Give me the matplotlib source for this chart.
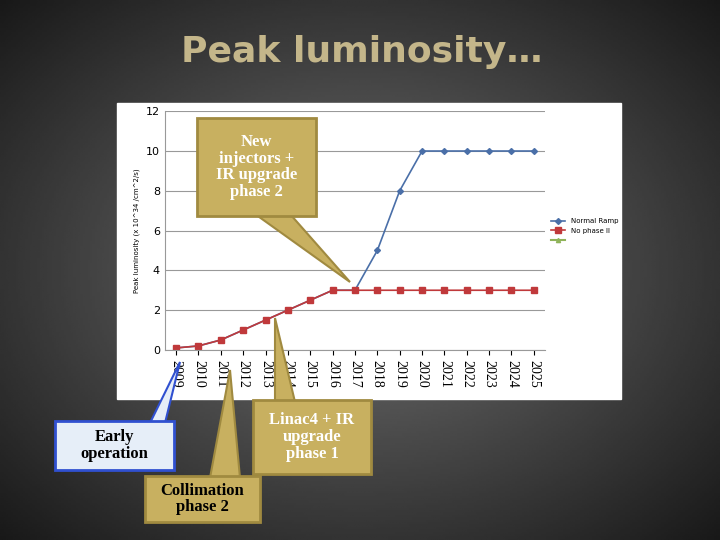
import numpy as np
import matplotlib.pyplot as plt
from matplotlib.patches import Polygon, Rectangle

years = [str(y) for y in range(2009, 2026)]
normal_ramp = [0.1, 0.2, 0.5, 1.0, 1.5, 2.0, 2.5, 3, 3, 5, 8, 10, 10, 10, 10, 10, 10]
no_phase2 = [0.1, 0.2, 0.5, 1.0, 1.5, 2.0, 2.5, 3, 3, 3, 3, 3, 3, 3, 3, 3, 3]

fig = plt.figure(figsize=(7.2, 5.4), dpi=100)
bg = fig.add_axes([0, 0, 1, 1])
xx, yy = np.meshgrid(np.linspace(-1, 1, 300), np.linspace(-1, 1, 225))
r = np.sqrt(xx**2 + yy**2)
bg.imshow(0.45 - 0.25 * r, cmap='gray', vmin=0, vmax=1, extent=[0, 720, 540, 0], aspect='auto')
bg.set_xlim(0, 720); bg.set_ylim(540, 0); bg.axis('off')
bg.add_patch(Rectangle((117, 103), 504, 296, color='white', zorder=1))
bg.text(362, 52, 'Peak luminosity…', ha='center', va='center', fontsize=26,
        color='#c4b68a', fontweight='bold', family='DejaVu Sans')

ax = fig.add_axes([0.229, 0.352, 0.528, 0.442])
x = np.arange(len(years))
ax.plot(x, normal_ramp, color='#4a6fa8', marker='D', markersize=3, lw=1.2, label='Normal Ramp')
ax.plot(x, no_phase2, color='#c0393b', marker='s', markersize=5, lw=1.2, label='No phase II')
ax.plot([], [], color='#8fb35a', marker='^', markersize=3, label=' ')
ax.set_ylim(0, 12); ax.set_xlim(-0.5, len(years) - 0.5)
ax.set_yticks(range(0, 13, 2))
ax.set_xticks(x); ax.set_xticklabels(years, rotation=-90, family='Liberation Serif', fontsize=10)
ax.tick_params(axis='y', labelsize=8, length=0)
ax.grid(axis='y', color='#999999', lw=0.8)
for s in ['top', 'right']: ax.spines[s].set_visible(False)
ax.spines['left'].set_color('#999999'); ax.spines['bottom'].set_color('#999999')
ax.set_ylabel('Peak luminosity (x 10^34 /cm^2/s)', fontsize=5)
ax.legend(loc='center left', bbox_to_anchor=(1.0, 0.5), frameon=False, fontsize=5)

ov = fig.add_axes([0, 0, 1, 1])
ov.set_xlim(0, 720); ov.set_ylim(540, 0); ov.axis('off'); ov.patch.set_alpha(0)

tan = '#c8b060'; edge = '#a08a40'
def callout(box, tri, text, fc=tan, ec=edge, tc='white'):
    ov.add_patch(Polygon(tri, closed=True, fc=fc, ec=ec, lw=1.5, zorder=5))
    x0, y0, x1, y1 = box
    ov.add_patch(Rectangle((x0, y0), x1 - x0, y1 - y0, fc=fc, ec=ec, lw=2, zorder=6))
    ov.text((x0 + x1) / 2, (y0 + y1) / 2, text, ha='center', va='center', fontsize=12,
            color=tc, family='Liberation Serif', fontweight='bold', zorder=7, linespacing=1.05)

callout((197, 118, 316, 216), [(255, 214), (290, 214), (350, 282)],
        'New\ninjectors +\nIR upgrade\nphase 2')
callout((55, 421, 174, 470), [(150, 423), (165, 423), (180, 362)],
        'Early\noperation', fc='#e6eef8', ec='#3050d0', tc='black')
callout((145, 476, 260, 522), [(210, 478), (240, 478), (230, 370)],
        'Collimation\nphase 2', tc='black')
callout((253, 400, 371, 474), [(275, 402), (295, 402), (275, 318)],
        'Linac4 + IR\nupgrade\nphase 1')

fig.savefig('out.png', dpi=100)
